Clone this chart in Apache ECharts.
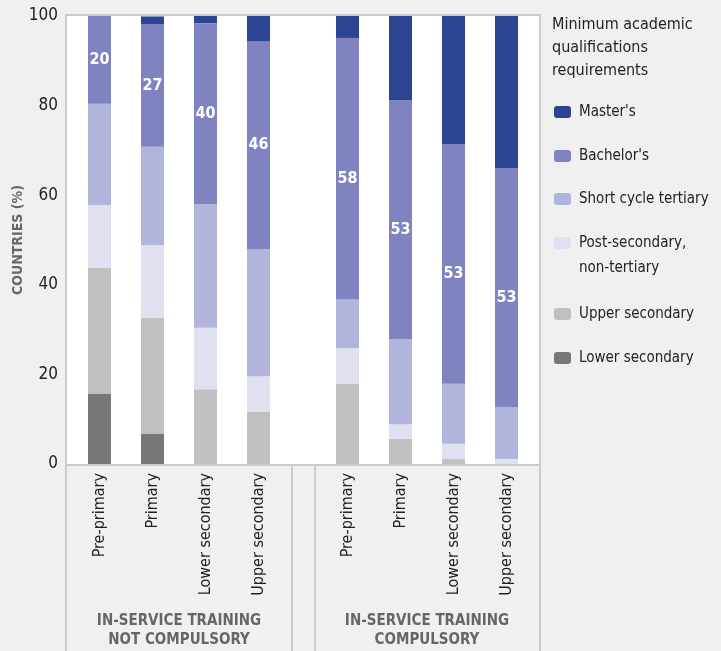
<!DOCTYPE html>
<html>
<head>
<meta charset="utf-8">
<title>Minimum academic qualifications requirements</title>
<script src="https://cdn.jsdelivr.net/npm/echarts@6.0.0/dist/echarts.min.js"></script>
<style>
    html, body { margin: 0; padding: 0; background: #f0f0f0; }
    #chart { width: 721px; height: 651px; }
</style>
</head>
<body>
<div id="chart"></div>
<script>
    // categories (same four levels in each group)
    var categories = ["Pre-primary", "Primary", "Lower secondary", "Upper secondary"];
    var groups = ["IN-SERVICE TRAINING\nNOT COMPULSORY", "IN-SERVICE TRAINING\nCOMPULSORY"];
    var yTicks = [0, 20, 40, 60, 80, 100];

    // % of countries, first 4 = not compulsory, last 4 = compulsory
    var lowerSecondary = [15.6, 6.7, 0, 0, 0, 0, 0, 0];
    var upperSecondary = [28.2, 25.9, 16.7, 11.6, 17.9, 5.6, 1.1, 0];
    var postSecondary = [14.0, 16.3, 13.7, 8.0, 8.0, 3.3, 3.4, 1.1];
    var shortCycle = [22.6, 21.9, 27.6, 28.4, 10.8, 19.0, 13.4, 11.6];
    var bachelors = [19.6, 27.4, 40.4, 46.4, 58.4, 53.3, 53.4, 53.3];
    var masters = [0, 1.7, 1.6, 5.6, 4.9, 18.8, 28.7, 34.0];

    var levels = [
        { name: "Lower secondary", data: lowerSecondary, color: "#777777" },
        { name: "Upper secondary", data: upperSecondary, color: "#c0c0c0" },
        { name: "Post-secondary, non-tertiary", data: postSecondary, color: "#dfe0f0" },
        { name: "Short cycle tertiary", data: shortCycle, color: "#b2b5db" },
        { name: "Bachelor's", data: bachelors, color: "#7f83c0" },
        { name: "Master's", data: masters, color: "#2b4592" }
    ];

    var font = "'Liberation Sans Narrow', 'DejaVu Sans Condensed', 'Open Sans', sans-serif";
    var textColor = "#222222";
    var greyText = "#666666";
    var border = "#cccccc";

    var chart = echarts.init(document.getElementById("chart"));

    var grids = [], xAxes = [], yAxes = [], series = [];
    var gridLefts = [73, 321];
    for (var g = 0; g < 2; g++) {
        grids.push({
            left: gridLefts[g],
            width: 212,
            top: 16,
            height: 448,
            containLabel: false,
            outerBoundsMode: "none"
        });
        xAxes.push({
            type: "category",
            gridIndex: g,
            data: categories,
            axisLine: { show: false },
            axisTick: { show: false },
            axisLabel: {
                rotate: 90,
                margin: 9,
                fontSize: 16,
                color: textColor,
                fontFamily: font
            },
            name: groups[g],
            nameLocation: "middle",
            nameGap: 148,
            nameTextStyle: {
                fontSize: 15,
                fontWeight: "bold",
                color: greyText,
                lineHeight: 19,
                fontFamily: font
            }
        });
        yAxes.push({
            type: "value",
            gridIndex: g,
            show: g == 0,
            min: yTicks[0],
            max: yTicks[yTicks.length - 1],
            interval: 20,
            axisLine: { show: false },
            axisTick: { show: false },
            splitLine: { show: false },
            axisLabel: { margin: 15, fontSize: 17, color: textColor, fontFamily: font },
            name: "COUNTRIES (%)",
            nameLocation: "middle",
            nameGap: 46,
            nameTextStyle: { fontSize: 14, fontWeight: "bold", color: greyText, fontFamily: font }
        });
        for (var i in levels) {
            var lv = levels[i];
            var s = {
                name: lv.name,
                type: "bar",
                stack: "g" + g,
                xAxisIndex: g,
                yAxisIndex: g,
                barWidth: 23,
                data: lv.data.slice(g * 4, g * 4 + 4),
                itemStyle: { color: lv.color }
            };
            if (lv.name == "Bachelor's") {
                s.label = {
                    show: true,
                    position: "inside",
                    offset: [0, g == 1 ? 10 : 0],
                    color: "#ffffff",
                    fontSize: 16,
                    fontWeight: "bold",
                    fontFamily: font,
                    formatter: function(p) { return Math.round(p.value); }
                };
            }
            series.push(s);
        }
    }

    // one legend per item so the two-line entry keeps its swatch on the first line
    // (a blank leading line puts "Post-secondary," level with the swatch)
    var legendOrder = ["Master's", "Bachelor's", "Short cycle tertiary",
        "Post-secondary, non-tertiary", "Upper secondary", "Lower secondary"];
    var legendTops = [101, 145, 188, 205.5, 303, 347];
    var legends = [];
    for (var k in legendOrder) {
        var twoLines = legendOrder[k].indexOf(",") > 0;
        legends.push({
            orient: "vertical",
            left: 554,
            top: legendTops[k],
            padding: 0,
            itemWidth: 17,
            itemHeight: 12,
            data: [legendOrder[k]],
            formatter: function(name) {
                return name.indexOf(",") > 0 ? "\n" + name.replace(", ", ",\n") : name;
            },
            textStyle: {
                fontSize: 15,
                color: textColor,
                fontFamily: font,
                lineHeight: twoLines ? 25 : 22,
                padding: [0, 0, 0, 3]
            }
        });
    }

    function vline(x, y1, y2) {
        return { type: "line", z: 10, shape: { x1: x, y1: y1, x2: x, y2: y2 }, style: { stroke: border, lineWidth: 2 } };
    }
    function hline(y, x1, x2) {
        return { type: "line", z: 10, shape: { x1: x1, y1: y, x2: x2, y2: y }, style: { stroke: border, lineWidth: 2 } };
    }

    var option = {
        animation: false,
        backgroundColor: "#f0f0f0",
        title: {
            text: "Minimum academic\nqualifications\nrequirements",
            left: 552,
            top: 13,
            padding: 0,
            textStyle: { fontSize: 16, fontWeight: "normal", color: textColor, lineHeight: 23, fontFamily: font }
        },
        legend: legends,
        grid: grids,
        xAxis: xAxes,
        yAxis: yAxes,
        series: series,
        graphic: [
            { type: "rect", z: -10, shape: { x: 66, y: 15, width: 474, height: 449 }, style: { fill: "#ffffff" } },
            hline(15, 66, 541),
            hline(465, 66, 541),
            vline(66, 14, 651),
            vline(540, 14, 651),
            vline(292, 465, 651),
            vline(315, 465, 651)
        ]
    };
    chart.setOption(option);
</script>
</body>
</html>
